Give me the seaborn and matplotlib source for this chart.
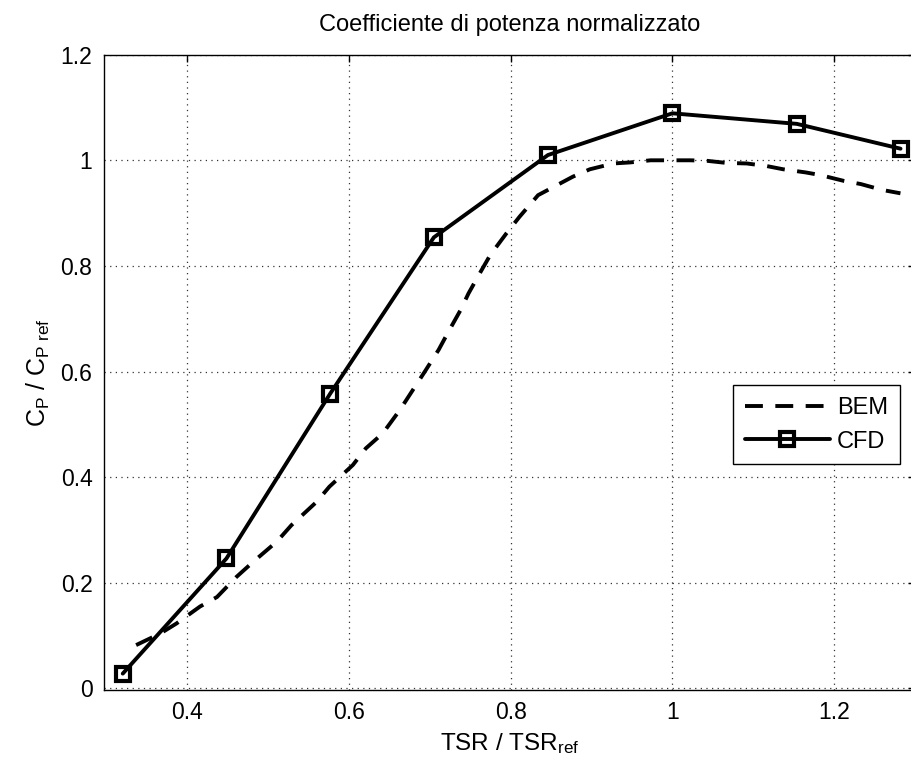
import matplotlib
matplotlib.use('Agg')
import matplotlib.pyplot as plt
import seaborn as sns
import pandas as pd

# === dati ===
bem_x = [0.337, 0.367, 0.387, 0.416, 0.437, 0.461, 0.482, 0.511, 0.529, 0.560,
         0.576, 0.605, 0.621, 0.642, 0.663, 0.694, 0.711, 0.723, 0.738, 0.748,
         0.763, 0.775, 0.795, 0.811, 0.834, 0.850, 0.877, 0.898, 0.927, 0.948,
         0.973, 1.000, 1.022, 1.043, 1.067, 1.092, 1.117, 1.137, 1.165, 1.183,
         1.212, 1.233, 1.259, 1.282]
bem_y = [0.082, 0.104, 0.123, 0.155, 0.173, 0.211, 0.240, 0.278, 0.309, 0.353,
         0.382, 0.423, 0.4545, 0.483, 0.527, 0.600, 0.641, 0.675, 0.716, 0.748,
         0.789, 0.821, 0.862, 0.893, 0.934, 0.947, 0.969, 0.983, 0.994, 0.996,
         1.000, 1.000, 1.000, 0.999, 0.995, 0.994, 0.989, 0.983, 0.977, 0.972,
         0.961, 0.955, 0.944, 0.9375]

cfd_x = [0.3205, 0.4487, 0.5769, 0.7051, 0.8462, 1.0, 1.1538, 1.2821]
cfd_y = [0.028, 0.246, 0.558, 0.854, 1.010, 1.089, 1.069, 1.022]

x_ticks = [0.4, 0.6, 0.8, 1.0, 1.2]
x_tick_labels = ['0.4', '0.6', '0.8', '1', '1.2']
y_ticks = [0, 0.2, 0.4, 0.6, 0.8, 1.0, 1.2]
y_tick_labels = ['0', '0.2', '0.4', '0.6', '0.8', '1', '1.2']

df_bem = pd.DataFrame({'tsr': bem_x, 'cp': bem_y})
df_cfd = pd.DataFrame({'tsr': cfd_x, 'cp': cfd_y})

sns.set_style('white')
plt.rcParams['font.family'] = ['Liberation Sans', 'DejaVu Sans']
plt.rcParams['mathtext.fontset'] = 'custom'
plt.rcParams['mathtext.rm'] = 'Liberation Sans'
plt.rcParams['mathtext.it'] = 'Liberation Sans'
plt.rcParams['mathtext.default'] = 'regular'
plt.rcParams['text.color'] = 'black'
plt.rcParams['axes.labelcolor'] = 'black'
plt.rcParams['xtick.color'] = 'black'
plt.rcParams['ytick.color'] = 'black'

fig = plt.figure(figsize=(9.12, 7.68), dpi=100)
ax = fig.add_axes([0.1135, 0.1016, 0.8898, 0.8272])

sns.lineplot(data=df_bem, x='tsr', y='cp', ax=ax, color='black', linewidth=2.8,
             dashes=False, label='BEM', estimator=None)
ax.lines[-1].set_dashes([4.6, 3.2])
sns.lineplot(data=df_cfd, x='tsr', y='cp', ax=ax, color='black', linewidth=2.8,
             marker='s', markersize=10, markerfacecolor='none',
             markeredgecolor='black', markeredgewidth=3.0, label='CFD', estimator=None)

ax.set_xlim(0.2967, 1.3)
ax.set_ylim(-0.003, 1.2)
ax.set_xticks(x_ticks)
ax.set_xticklabels(x_tick_labels)
ax.set_yticks(y_ticks)
ax.set_yticklabels(y_tick_labels)

ax.grid(True, linestyle=(0, (1, 3.5)), color='black', linewidth=0.9, alpha=0.8)
ax.tick_params(direction='in', length=5, width=1, labelsize=16.5, top=True, right=True,
               color='black', pad=8)
for s in ax.spines.values():
    s.set_color('black')
    s.set_linewidth(1.0)

ax.set_title('Coefficiente di potenza normalizzato', fontsize=17, pad=17)
ax.set_xlabel('TSR / TSR$_{ref}$', fontsize=17.5, labelpad=5)
ax.set_ylabel('C$_P$ / C$_{P\\ ref}$', fontsize=18, labelpad=6)

leg = ax.legend(loc='upper right', bbox_to_anchor=(0.9815, 0.480), borderaxespad=0,
                fontsize=17, frameon=True, fancybox=False, edgecolor='black',
                handlelength=3.6, borderpad=0.5, labelspacing=0.5, handletextpad=0.3)
leg.get_frame().set_linewidth(1.0)
leg.get_frame().set_alpha(1)

fig.savefig('out.png', dpi=100)
